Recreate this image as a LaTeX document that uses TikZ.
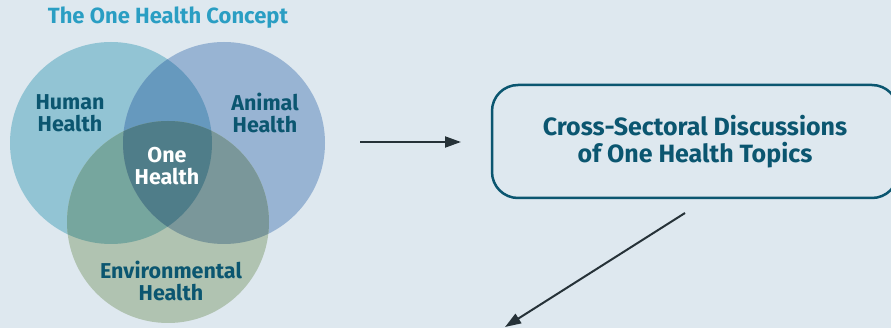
\documentclass[tikz,border=0pt]{standalone}
\usepackage{xcolor}
\usepackage{fontspec}
\setmainfont{Fira Sans}
\usepackage{tikz}
\usetikzlibrary{positioning, calc, arrows.meta}

\definecolor{bgcol}{HTML}{DEE8EF}
\definecolor{humcol}{HTML}{92C4D4}
\definecolor{anicol}{HTML}{98B4D3}
\definecolor{envcol}{HTML}{B0C3B1}
\definecolor{hacol}{HTML}{6699BE}
\definecolor{hecol}{HTML}{76A69E}
\definecolor{aecol}{HTML}{7A979A}
\definecolor{onecol}{HTML}{4F7D89}
\definecolor{labcol}{HTML}{0B5670}
\definecolor{titcol}{HTML}{2A9EC3}
\definecolor{arrcol}{HTML}{263238}

\begin{document}
\begin{tikzpicture}[x=1pt, y=-1pt,
  circlabel/.style={text=labcol, font=\fontsize{21.5}{22}\selectfont\bfseries, align=center, inner sep=0pt},
  topicbox/.style={draw=labcol, line width=2.5pt, rounded corners=26pt, text=labcol,
    font=\fontsize{25}{27}\selectfont\bfseries, align=center, minimum width=406pt, minimum height=113pt},
  flow/.style={draw=arrcol, line width=2pt, -{Triangle[length=16pt, width=11pt]}}]

\useasboundingbox (0,0) rectangle (891,328);
\fill [bgcol] (0,0) rectangle (891,328);

%//circle centres
\def\rad{101pt}
\coordinate (hum) at (111,143);
\coordinate (ani) at (224,143);
\coordinate (env) at (168,222);

\fill [humcol] (hum) circle (\rad);
\fill [anicol] (ani) circle (\rad);
\fill [envcol] (env) circle (\rad);

\begin{scope}
\clip (hum) circle (\rad);
\fill [hacol] (ani) circle (\rad);
\fill [hecol] (env) circle (\rad);
\end{scope}

\begin{scope}
\clip (ani) circle (\rad);
\fill [aecol] (env) circle (\rad);
\clip (hum) circle (\rad);
\fill [onecol] (env) circle (\rad);
\end{scope}

\node [text=titcol, font=\fontsize{22}{22}\selectfont\bfseries] (title) at (168,18) {The One Health Concept};

\node [circlabel] (humlab) at (70,113) {Human\\Health};
\node [circlabel] (anilab) at (265,113) {Animal\\Health};
\node [circlabel, text=white] (onelab) at (167,166) {One\\Health};
\node [circlabel] (envlab) at (171,281) {Environmental\\Health};

\node [topicbox] (topics) at (695,141.5) {Cross-Sectoral Discussions\\of One Health Topics};

%//arrows
\coordinate (a1s) at (360,142);
\coordinate (a1e) at (461,142);
\coordinate (a2s) at (685,213);
\coordinate (a2e) at (505,327);

\draw [flow] (a1s) -- (a1e);
\draw [flow] (a2s) -- (a2e);
\end{tikzpicture}
\end{document}
